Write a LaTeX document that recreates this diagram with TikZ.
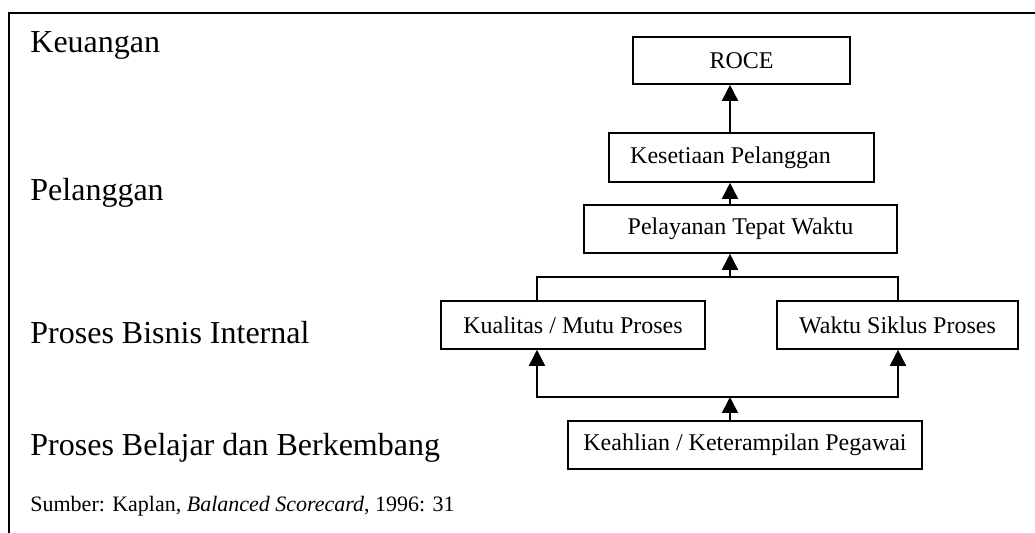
\documentclass[tikz,border=0pt]{standalone}
\usepackage{fontspec}
\setmainfont{Liberation Serif}
\usetikzlibrary{arrows.meta}
\tikzset{
  box/.style={draw, line width=0.8pt, rectangle, inner sep=0pt, font=\fontsize{12}{14}\selectfont},
  lvl/.style={anchor=base west, inner sep=0pt, font=\fontsize{16}{19}\selectfont},
  conn/.style={line width=0.8pt},
  arr/.style={line width=0.8pt, -{Triangle[width=8pt,length=8pt]}},
  frame/.style={line width=1pt}
}
\begin{document}
\begin{tikzpicture}[x=0.5pt,y=-0.5pt]
\useasboundingbox (0,0) rectangle (1035,533);
% frame
\coordinate (fTR) at (1035,13);
\coordinate (fTL) at (9,13);
\coordinate (fBL) at (9,533);
\draw[frame] (fTR) -- (fTL) -- (fBL);
% level labels
\node[lvl] (l1) at (30,53) {Keuangan};
\node[lvl] (l2) at (30,201) {Pelanggan};
\node[lvl] (l3) at (30,344) {Proses Bisnis Internal};
\node[lvl] (l4) at (30,456) {Proses Belajar dan Berkembang};
\node[anchor=base west, inner sep=0pt, font=\fontsize{11}{13}\selectfont] (src) at (30,512) {Sumber: Kaplan, \textit{Balanced Scorecard}, 1996: 31};
% boxes
\node[box, minimum width=108.5pt, minimum height=23.5pt] (roce) at (741.5,60.5) {ROCE};
\node[box, minimum width=132.5pt, minimum height=24.5pt] (kes) at (741.5,157.5) {Kesetiaan Pelanggan\hspace*{11pt}};
\node[box, minimum width=156.5pt, minimum height=24pt] (pel) at (740.5,229) {Pelayanan Tepat Waktu};
\node[box, minimum width=132pt, minimum height=24pt] (kual) at (573,325) {Kualitas / Mutu Proses};
\node[box, minimum width=120.5pt, minimum height=24pt] (wak) at (897.5,325) {Waktu Siklus Proses};
\node[box, minimum width=177pt, minimum height=24pt] (keah) at (745,445) {Keahlian / Keterampilan Pegawai};
% junctions
\coordinate (j1) at (730,277);
\coordinate (j2) at (730,397);
\coordinate (cx) at (730,0);
\coordinate (kx) at (537,0);
\coordinate (wx) at (898,0);
% connectors
\draw[arr] (kes.north -| cx) -- (roce.south -| cx);
\draw[arr] (pel.north -| cx) -- (kes.south -| cx);
\draw[conn] (kual.north -| kx) |- (j1) -| (wak.north -| wx);
\draw[arr] (j1) -- (pel.south -| cx);
\draw[arr] (keah.north -| cx) -- (j2);
\draw[arr] (j2) -| (kual.south -| kx);
\draw[arr] (j2) -| (wak.south -| wx);
\end{tikzpicture}
\end{document}
